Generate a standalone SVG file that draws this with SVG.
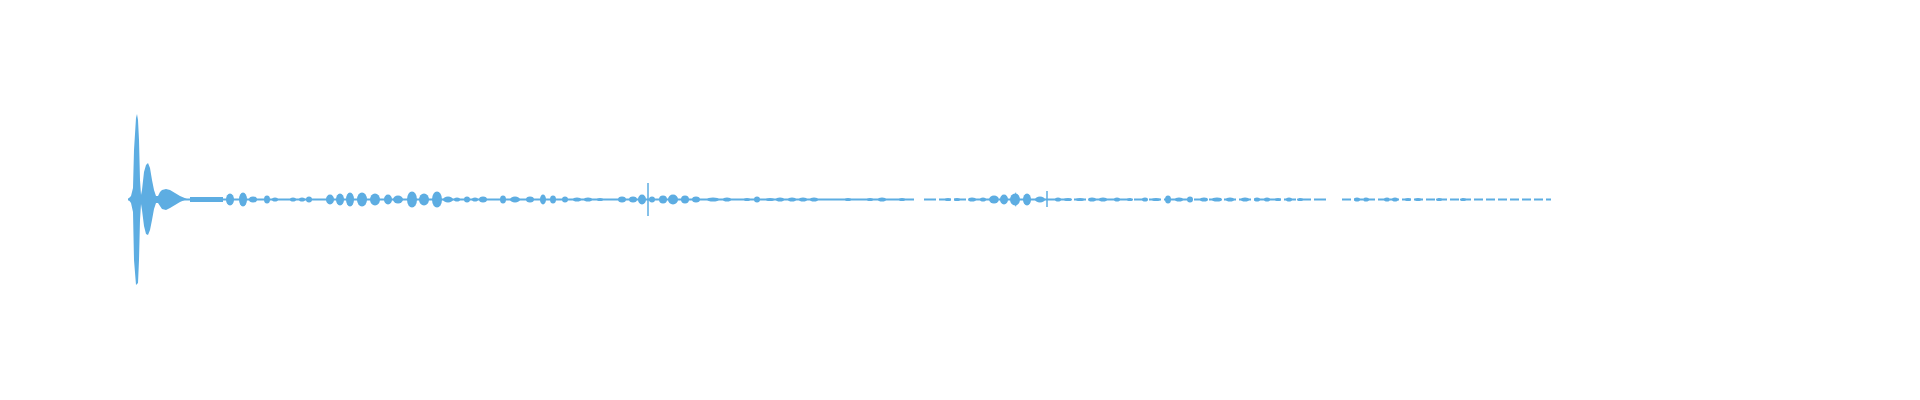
<svg xmlns="http://www.w3.org/2000/svg" width="1920" height="400" viewBox="0 0 1920 400">
<style>
.w{fill:#5dade2;stroke:none}
.b{stroke:#5dade2;stroke-width:2;fill:none}
.s{stroke:#5dade2;stroke-width:1.5}
</style>
<rect width="1920" height="400" fill="#fff"/>
<g id="waveform">
<line class="b" x1="128" y1="199.5" x2="914" y2="199.5"/>
<line class="b" x1="924" y1="199.5" x2="1329" y2="199.5" stroke-dasharray="12 3"/>
<line class="b" x1="1342" y1="199.5" x2="1551" y2="199.5" stroke-dasharray="9 3"/>
<path class="w" d="M128,199 L131,196 L133,188 L134,150 L136,118 L137,114 L138,120 L139,140 L140,180 L141,195 L142,190 L144,172 L146,165 L148,163 L150,168 L152,180 L154,190 L156,196 L158,196 L160,192 L162,190 L166,189 L170,190 L175,193 L180,196 L187,199 L180,202 L175,205 L170,208 L166,210 L162,209 L158,203 L156,203 L154,209 L152,220 L150,230 L148,235 L146,234 L144,226 L142,210 L141,204 L140,220 L139,260 L138,283 L136,285 L134,260 L133,212 L131,203 Z"/>
<path class="w" d="M190,197 L223,197 L223,202 L190,202 Z"/>
<g id="blobs">
<ellipse class="w" cx="230" cy="199.5" rx="4" ry="6"/>
<ellipse class="w" cx="243" cy="199.5" rx="4" ry="7"/>
<ellipse class="w" cx="253" cy="199.5" rx="4" ry="3"/>
<ellipse class="w" cx="267" cy="199.5" rx="3" ry="4"/>
<ellipse class="w" cx="275" cy="199.5" rx="3" ry="2"/>
<ellipse class="w" cx="293" cy="199.5" rx="3" ry="2"/>
<ellipse class="w" cx="302" cy="199.5" rx="3" ry="2"/>
<ellipse class="w" cx="309" cy="199.5" rx="3" ry="3"/>
<ellipse class="w" cx="330" cy="199.5" rx="4" ry="5"/>
<ellipse class="w" cx="340" cy="199.5" rx="4" ry="6"/>
<ellipse class="w" cx="350" cy="199.5" rx="4" ry="7"/>
<ellipse class="w" cx="362" cy="199.5" rx="5" ry="7"/>
<ellipse class="w" cx="375" cy="199.5" rx="5" ry="6"/>
<ellipse class="w" cx="388" cy="199.5" rx="4" ry="5"/>
<ellipse class="w" cx="398" cy="199.5" rx="5" ry="4"/>
<ellipse class="w" cx="412" cy="199.5" rx="5" ry="8"/>
<ellipse class="w" cx="424" cy="199.5" rx="5" ry="6"/>
<ellipse class="w" cx="437" cy="199.5" rx="5" ry="8"/>
<ellipse class="w" cx="448" cy="199.5" rx="5" ry="3"/>
<ellipse class="w" cx="457" cy="199.5" rx="3" ry="2"/>
<ellipse class="w" cx="467" cy="199.5" rx="3" ry="3"/>
<ellipse class="w" cx="475" cy="199.5" rx="3" ry="2"/>
<ellipse class="w" cx="483" cy="199.5" rx="4" ry="3"/>
<ellipse class="w" cx="503" cy="199.5" rx="3" ry="4"/>
<ellipse class="w" cx="515" cy="199.5" rx="5" ry="3"/>
<ellipse class="w" cx="530" cy="199.5" rx="4" ry="3"/>
<ellipse class="w" cx="543" cy="199.5" rx="3" ry="5"/>
<ellipse class="w" cx="553" cy="199.5" rx="3" ry="4"/>
<ellipse class="w" cx="565" cy="199.5" rx="3" ry="3"/>
<ellipse class="w" cx="577" cy="199.5" rx="4" ry="2"/>
<ellipse class="w" cx="588" cy="199.5" rx="4" ry="2"/>
<ellipse class="w" cx="600" cy="199.5" rx="3" ry="1.5"/>
<ellipse class="w" cx="622" cy="199.5" rx="4" ry="3"/>
<ellipse class="w" cx="633" cy="199.5" rx="4" ry="3"/>
<ellipse class="w" cx="642" cy="199.5" rx="4" ry="5"/>
<ellipse class="w" cx="652" cy="199.5" rx="3" ry="3"/>
<ellipse class="w" cx="663" cy="199.5" rx="4" ry="4"/>
<ellipse class="w" cx="673" cy="199.5" rx="5" ry="5"/>
<ellipse class="w" cx="685" cy="199.5" rx="4" ry="4"/>
<ellipse class="w" cx="696" cy="199.5" rx="4" ry="3"/>
<ellipse class="w" cx="713" cy="199.5" rx="6" ry="2"/>
<ellipse class="w" cx="727" cy="199.5" rx="4" ry="2"/>
<ellipse class="w" cx="747" cy="199.5" rx="3" ry="1.5"/>
<ellipse class="w" cx="757" cy="199.5" rx="3" ry="3"/>
<ellipse class="w" cx="770" cy="199.5" rx="4" ry="1.5"/>
<ellipse class="w" cx="780" cy="199.5" rx="4" ry="2"/>
<ellipse class="w" cx="792" cy="199.5" rx="4" ry="2"/>
<ellipse class="w" cx="803" cy="199.5" rx="4" ry="2"/>
<ellipse class="w" cx="814" cy="199.5" rx="4" ry="2"/>
<ellipse class="w" cx="848" cy="199.5" rx="3" ry="1.5"/>
<ellipse class="w" cx="870" cy="199.5" rx="3" ry="1.5"/>
<ellipse class="w" cx="882" cy="199.5" rx="4" ry="2"/>
<ellipse class="w" cx="902" cy="199.5" rx="3" ry="1.5"/>
<ellipse class="w" cx="948" cy="199.5" rx="3" ry="1.5"/>
<ellipse class="w" cx="957" cy="199.5" rx="3" ry="1.5"/>
<ellipse class="w" cx="972" cy="199.5" rx="4" ry="2"/>
<ellipse class="w" cx="983" cy="199.5" rx="3" ry="2"/>
<ellipse class="w" cx="994" cy="199.5" rx="5" ry="4"/>
<ellipse class="w" cx="1004" cy="199.5" rx="4" ry="5"/>
<ellipse class="w" cx="1015" cy="199.5" rx="5" ry="6"/>
<path class="w" d="M1012,199.5 L1016,192 L1017,199.5 L1016,207 Z"/>
<ellipse class="w" cx="1027" cy="199.5" rx="4" ry="6"/>
<ellipse class="w" cx="1040" cy="199.5" rx="5" ry="3"/>
<ellipse class="w" cx="1058" cy="199.5" rx="3" ry="2"/>
<ellipse class="w" cx="1068" cy="199.5" rx="4" ry="1.5"/>
<ellipse class="w" cx="1080" cy="199.5" rx="4" ry="1.5"/>
<ellipse class="w" cx="1092" cy="199.5" rx="4" ry="2"/>
<ellipse class="w" cx="1103" cy="199.5" rx="4" ry="2"/>
<ellipse class="w" cx="1117" cy="199.5" rx="3" ry="2"/>
<ellipse class="w" cx="1130" cy="199.5" rx="3" ry="1.5"/>
<ellipse class="w" cx="1145" cy="199.5" rx="3" ry="2"/>
<ellipse class="w" cx="1156" cy="199.5" rx="4" ry="1.5"/>
<ellipse class="w" cx="1168" cy="199.5" rx="3" ry="4"/>
<ellipse class="w" cx="1179" cy="199.5" rx="4" ry="2"/>
<ellipse class="w" cx="1190" cy="199.5" rx="3" ry="3"/>
<ellipse class="w" cx="1204" cy="199.5" rx="4" ry="2"/>
<ellipse class="w" cx="1217" cy="199.5" rx="5" ry="2"/>
<ellipse class="w" cx="1230" cy="199.5" rx="4" ry="2"/>
<ellipse class="w" cx="1245" cy="199.5" rx="4" ry="2"/>
<ellipse class="w" cx="1257" cy="199.5" rx="3" ry="2"/>
<ellipse class="w" cx="1267" cy="199.5" rx="3" ry="2"/>
<ellipse class="w" cx="1278" cy="199.5" rx="3" ry="1.5"/>
<ellipse class="w" cx="1289" cy="199.5" rx="3" ry="2"/>
<ellipse class="w" cx="1300" cy="199.5" rx="3" ry="1.5"/>
<ellipse class="w" cx="1357" cy="199.5" rx="3" ry="2"/>
<ellipse class="w" cx="1366" cy="199.5" rx="3" ry="2"/>
<ellipse class="w" cx="1387" cy="199.5" rx="3" ry="2"/>
<ellipse class="w" cx="1395" cy="199.5" rx="3" ry="2"/>
<ellipse class="w" cx="1408" cy="199.5" rx="3" ry="1.5"/>
<ellipse class="w" cx="1418" cy="199.5" rx="3" ry="1.5"/>
<ellipse class="w" cx="1439" cy="199.5" rx="3" ry="1.5"/>
<ellipse class="w" cx="1463" cy="199.5" rx="3" ry="1.5"/>
</g>
<line class="s" x1="648" y1="183" x2="648" y2="216"/>
<line class="s" x1="1047" y1="191" x2="1047" y2="207"/>
</g>
</svg>
